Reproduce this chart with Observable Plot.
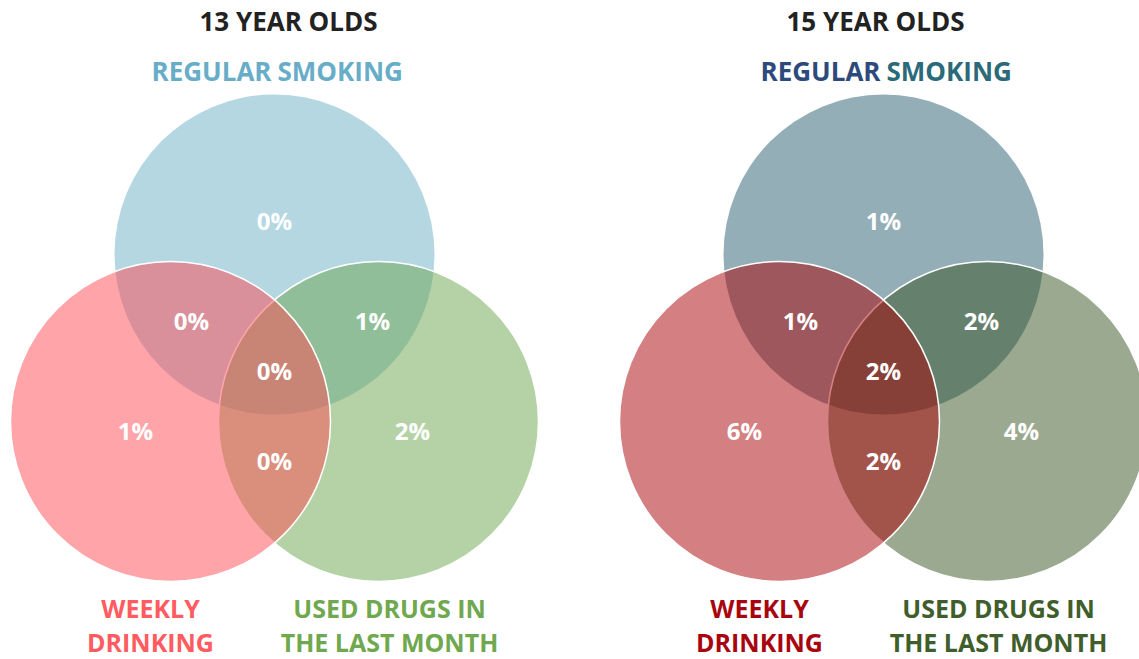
<!DOCTYPE html>
<html><head><meta charset="utf-8">
<script src="https://cdn.jsdelivr.net/npm/d3@7"></script>
<script src="https://cdn.jsdelivr.net/npm/@observablehq/plot@0.6"></script>
<style>body{margin:0;background:#fff}</style>
</head><body><div id="chart"></div>
<script>
// ---- data ----
const panelTitles = ["13 YEAR OLDS", "15 YEAR OLDS"];
const setKeys = ["S", "D", "U"];
const setNames = ["REGULAR SMOKING", "WEEKLY DRINKING", "USED DRUGS IN THE LAST MONTH"];
const setLabelLines = [["REGULAR", "SMOKING"], ["WEEKLY", "DRINKING"], ["USED DRUGS IN", "THE LAST MONTH"]];
const regionKeys = ["S", "SD", "SU", "SDU", "D", "U", "DU"];
const pct13 = [0, 0, 1, 0, 1, 2, 0];
const pct15 = [1, 1, 2, 2, 6, 4, 2];

// ---- layout & style ----
const W = 1139, H = 659;
const panelCx = [274, 883];
const titleShift = [14, -8];
const circleOffset = {S: [0, 254], D: [-104, 421], U: [104, 421]};
const regionOffset = {S: [0, 222], SD: [-83, 322], SU: [98, 322], SDU: [0, 372], D: [-139, 432], U: [138, 432], DU: [0, 462]};
const fills = [
  {S: "#6aafc5", D: "#ff4a52", U: "#6ba54d"},
  {S: "#275d6d", D: "#aa0004", U: "#375323"}
];
const textColors = [
  {S1: "#68adc7", S2: "#68adc7", D: "#ff5b60", U: "#6fa84f"},
  {S1: "#2d4a7c", S2: "#2b6a78", D: "#a8060f", U: "#3f5e2c"}
];
const font = "Open Sans, Segoe UI, sans-serif";

const pcts = [pct13, pct15];
const circles = [];
panelTitles.forEach((t, p) => {
  setKeys.forEach((k, i) => {
    circles.push({panel: p, set: k, name: setNames[i], x: panelCx[p] + circleOffset[k][0], y: circleOffset[k][1], r: 1, fill: fills[p][k]});
  });
});
const regionLabels = [];
panelTitles.forEach((t, p) => {
  regionKeys.forEach((k, i) => {
    regionLabels.push({x: panelCx[p] + regionOffset[k][0], y: regionOffset[k][1], text: pcts[p][i] + "%"});
  });
});
const titles = panelTitles.map((t, p) => ({x: panelCx[p] + titleShift[p], y: 22, text: t}));
const smokeA = panelTitles.map((t, p) => ({x: panelCx[p] - 3, y: 72, text: setLabelLines[0][0], fill: textColors[p].S1}));
const smokeB = panelTitles.map((t, p) => ({x: panelCx[p] + 3, y: 72, text: setLabelLines[0][1], fill: textColors[p].S2}));
const bottomLabels = [];
panelTitles.forEach((t, p) => {
  bottomLabels.push({x: panelCx[p] - 124, y: 624, text: setLabelLines[1].join("\n"), fill: textColors[p].D});
  bottomLabels.push({x: panelCx[p] + 115, y: 624, text: setLabelLines[2].join("\n"), fill: textColors[p].U});
});

const bySet = k => circles.filter(d => d.set === k);
const chart = Plot.plot({
  width: W, height: H, margin: 0,
  style: {background: "#fff"},
  x: {domain: [0, W], range: [0, W], axis: null},
  y: {domain: [0, H], range: [0, H], axis: null},
  r: {type: "linear", domain: [0, 1], range: [0, 160]},
  color: {type: "identity"},
  marks: [
    Plot.dot(bySet("S"), {x: "x", y: "y", r: "r", fill: "fill", fillOpacity: 0.5, stroke: null}),
    Plot.dot(bySet("U"), {x: "x", y: "y", r: "r", fill: "fill", fillOpacity: 0.5, stroke: "white", strokeWidth: 1.5}),
    Plot.dot(bySet("D"), {x: "x", y: "y", r: "r", fill: "fill", fillOpacity: 0.5, stroke: "white", strokeWidth: 1.5}),
    Plot.text(regionLabels, {x: "x", y: "y", text: "text", fill: "white", fontSize: 24, fontWeight: "bold", fontFamily: font}),
    Plot.text(titles, {x: "x", y: "y", text: "text", fill: "#222", fontSize: 26, fontWeight: "bold", fontFamily: font}),
    Plot.text(smokeA, {x: "x", y: "y", text: "text", fill: "fill", textAnchor: "end", fontSize: 26, fontWeight: "bold", fontFamily: font}),
    Plot.text(smokeB, {x: "x", y: "y", text: "text", fill: "fill", textAnchor: "start", fontSize: 26, fontWeight: "bold", fontFamily: font}),
    Plot.text(bottomLabels, {x: "x", y: "y", text: "text", fill: "fill", lineHeight: 1.34, fontSize: 25, fontWeight: "bold", fontFamily: font})
  ]
});
document.getElementById("chart").appendChild(chart);
</script>
</body></html>
